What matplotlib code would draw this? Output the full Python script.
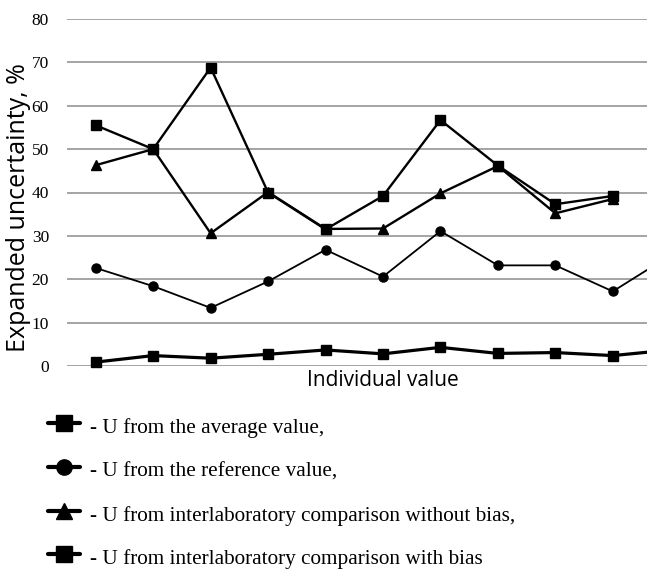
import matplotlib
matplotlib.use("Agg")
import matplotlib.pyplot as plt
from matplotlib.lines import Line2D

# ---- data ----
points = list(range(11))
u_average = [0.9, 2.4, 1.8, 2.7, 3.7, 2.8, 4.3, 2.9, 3.1, 2.4, 3.7]
u_reference = [22.6, 18.4, 13.4, 19.5, 26.8, 20.6, 31.1, 23.2, 23.2, 17.2, 25.5]
u_no_bias = [46.3, 50.0, 30.6, 40.1, 31.6, 31.7, 39.8, 46.1, 35.2, 38.5]
u_bias = [55.5, 50.0, 68.8, 40.0, 31.5, 39.2, 56.7, 46.2, 37.3, 39.2]
yticks = [0, 10, 20, 30, 40, 50, 60, 70, 80]
labels = ["- U from the average value,",
          "- U from the reference value,",
          "- U from interlaboratory comparison without bias,",
          "- U from interlaboratory comparison with bias"]

W, H = 647, 569
fig = plt.figure(figsize=(W / 100, H / 100), dpi=100)

# axes extends beyond the right edge of the figure (cropped like the reference)
left_px, right_px, top_px, bot_px = 67, 699, 19, 366
ax = fig.add_axes([left_px / W, (H - bot_px) / H, (right_px - left_px) / W, (bot_px - top_px) / H])
ax.set_xlim(-0.5, 10.5)
ax.set_ylim(0, 80)
ax.set_yticks(yticks)
ax.set_xticks([])
for s in ax.spines.values():
    s.set_visible(False)
ax.tick_params(axis="y", length=0, pad=13, labelsize=12.5)
for lab in ax.get_yticklabels():
    lab.set_fontfamily("Liberation Serif")
ax.yaxis.grid(True, color="#8c8c8c", linewidth=1.1)
ax.set_axisbelow(True)

ax.plot(points[:len(u_bias)], u_bias, color="black", lw=1.7, marker="s", ms=7, clip_on=False)
ax.plot(points[:len(u_no_bias)], u_no_bias, color="black", lw=1.7, marker="^", ms=7, clip_on=False)
ax.plot(points, u_reference, color="black", lw=1.3, marker="o", ms=6.5, clip_on=False)
ax.plot(points, u_average, color="black", lw=2.3, marker="s", ms=7.5, clip_on=False)

ax.set_ylabel("Expanded uncertainty, %", fontfamily="Open Sans", fontsize=18)
ax.yaxis.set_label_coords((31 - left_px) / (right_px - left_px), 0.458)
ax.set_xlabel("Individual value", fontfamily="Open Sans", fontsize=15, labelpad=3)

# ---- legend (custom, below the chart) ----
lax = fig.add_axes([0, 0, 1, 1])
lax.set_xlim(0, W)
lax.set_ylim(H, 0)
lax.axis("off")
markers = ["s", "o", "^", "s"]
row_y = [423, 467, 511, 554]
for m, lab, yy in zip(markers, labels, row_y):
    lax.add_line(Line2D([48, 80], [yy, yy], color="black", lw=3, solid_capstyle="round"))
    lax.plot([64], [yy], color="black", marker=m, ms=11, linestyle="none")
    lax.text(90, yy + 5, lab, fontfamily="Liberation Serif", fontsize=15.3, va="center", ha="left")

fig.savefig("out.png", dpi=100)
